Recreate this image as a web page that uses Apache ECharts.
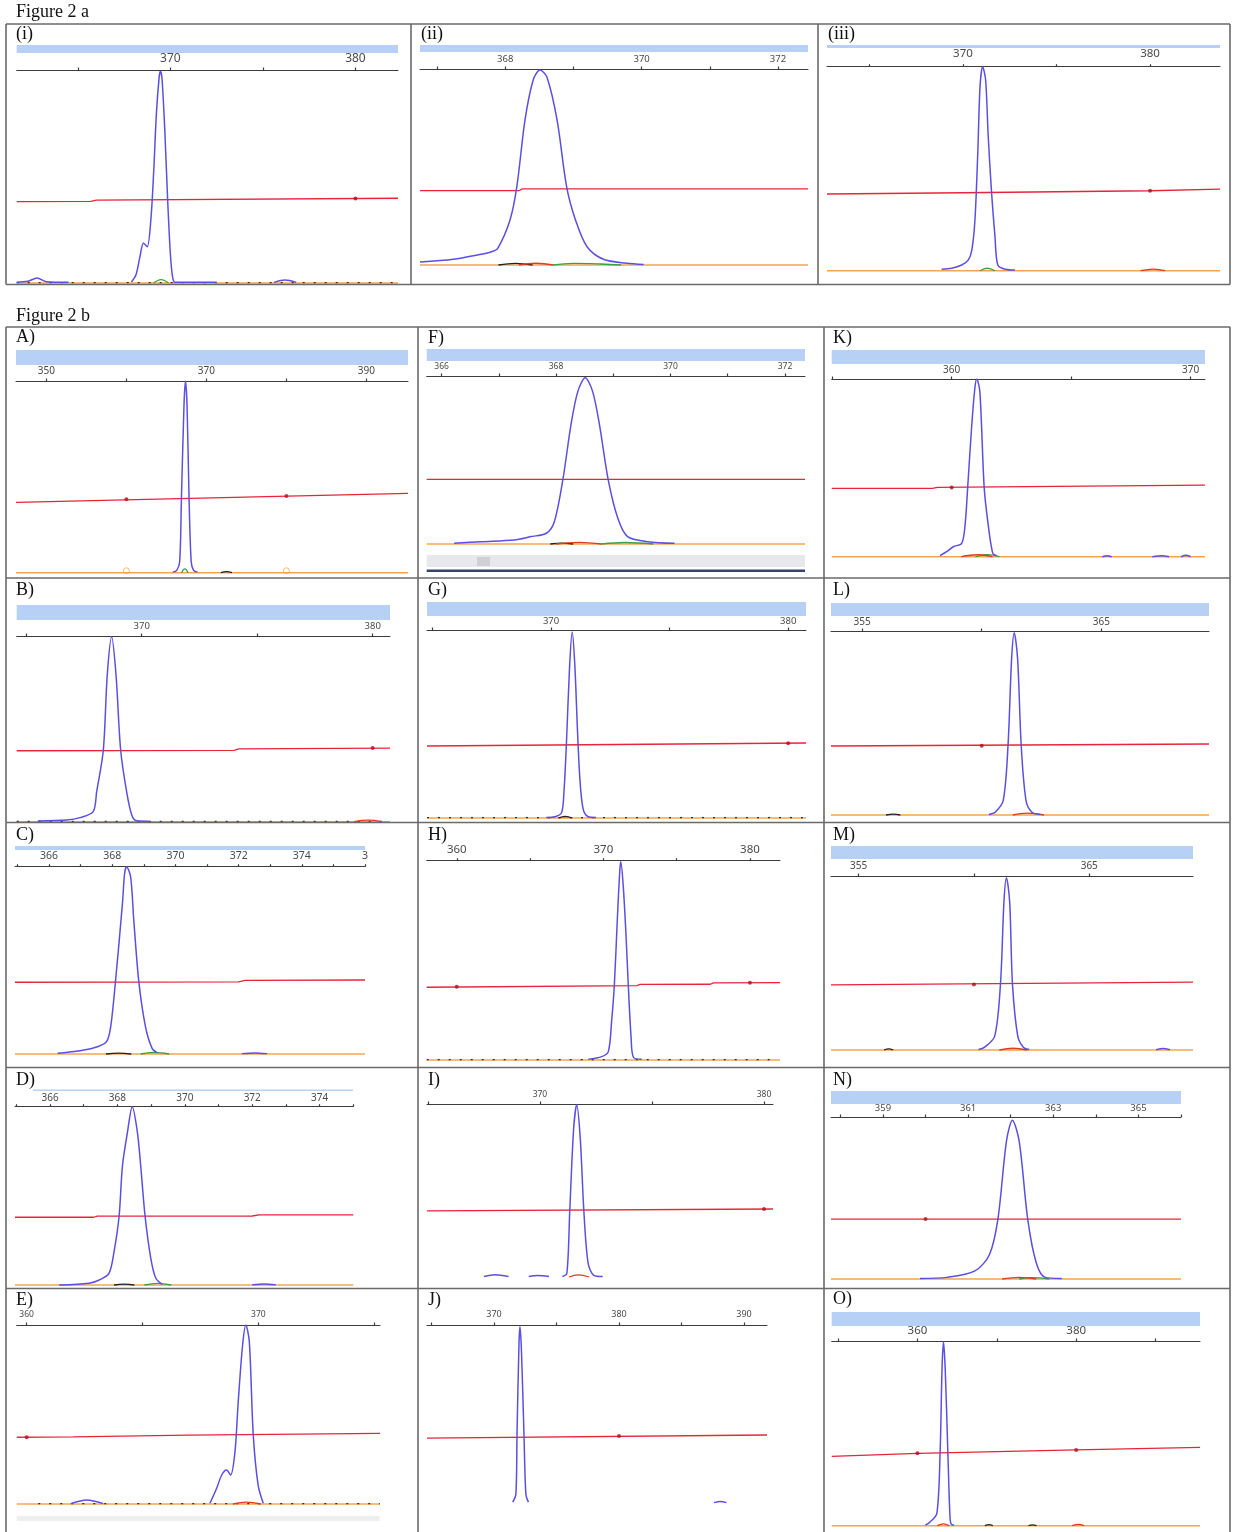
<!DOCTYPE html>
<html><head><meta charset="utf-8">
<script src="https://cdn.jsdelivr.net/npm/echarts@6/dist/echarts.min.js"></script>
<style>html,body{margin:0;padding:0;background:#fff}#c{width:1234px;height:1532px}</style>
</head><body><div id="c"></div><script>
// ---------------- DATA (x in bp, y in % of panel height) ----------------
const range_i=[361.7,382.3], ticks_i=[365,370,375,380], labels_i=[[370,'370'],[380,'380']];
const blue_i=[[[361.7,0.4],[362.3,0.8],[362.8,2.3],[363.3,0.6],[364.5,0.3]],
 [[367.9,0.5],[368.15,4],[368.35,12],[368.55,18.8],[368.75,17],[368.95,30],[369.1,52],[369.25,80],[369.4,97],[369.47,99.4],[369.55,96],[369.7,72],[369.85,40],[370.0,14],[370.12,3],[370.25,0.4],[372.5,0.3]],
 [[375.6,0.3],[376.2,1.4],[376.8,0.3]]];
const red_i=[[361.7,38.2],[365.7,38.3],[366.0,38.9],[382.3,39.8]], dots_i=[[380,39.7]];
const green_i=[[[369.1,0],[369.5,1.6],[369.9,0]]], dark_i=[], dash_i=[[361.7,382.3]];

const range_ii=[366.75,372.44], ticks_ii=[367,368,369,370,371,372], labels_ii=[[368,'368'],[370,'370'],[372,'372']];
const blue_ii=[[[366.75,1.5],[367.24,2.9],[367.59,5.1],[367.8,6.8],[367.89,8.5],[368.07,23],[368.17,40],[368.29,74],[368.41,94.4],[368.51,99.5],[368.61,96],[368.76,74],[368.9,40],[369.03,23],[369.2,9.3],[369.44,2.9],[369.78,0.9],[370.03,0.3]]];
const red_ii=[[366.75,37.9],[368.2,37.9],[368.25,38.8],[372.44,38.8]], dots_ii=[];
const green_ii=[[[368.7,0],[369.0,0.8],[369.4,0.5],[369.7,0]]], dark_ii=[[[367.9,0],[368.15,0.8],[368.4,0]]], rb_ii=[[[368.2,0],[368.45,0.9],[368.7,0]]], dash_ii=[];

const range_iii=[362.73,383.74], ticks_iii=[365,370,375,380], labels_iii=[[370,'370'],[380,'380']];
const blue_iii=[[[368.86,0.7],[369.4,1.2],[369.93,2.8],[370.28,5.2],[370.47,10],[370.64,25],[370.79,57.5],[370.91,90],[371.05,100],[371.21,93.5],[371.35,65.7],[371.53,38],[371.71,16.7],[371.86,2.8],[372.25,0.7],[372.78,0.3]]];
const red_iii=[[362.73,37.6],[370,38.2],[380,39.2],[383.74,40]], dots_iii=[[380,39.2]];
const green_iii=[[[370.9,0],[371.3,1.2],[371.7,0]]], dark_iii=[], rb_iii=[[[379.5,0],[380.2,0.8],[380.8,0]]], dash_iii=[];

const range_A=[346.2,395.2], ticks_A=[350,360,370,380,390], labels_A=[[350,'350'],[370,'370'],[390,'390']];
const blue_A=[[[365.8,0.3],[366.3,1.2],[366.66,5.7],[366.88,39],[367.2,87.5],[367.38,100],[367.58,87.5],[367.83,39],[368.1,5.7],[368.4,1.2],[368.9,0.3]]];
const red_A=[[346.2,36.7],[395.2,41.4]], dots_A=[[360,38.3],[380,40]];
const green_A=[[[366.9,0],[367.3,2],[367.7,0]]], dark_A=[[[371.8,0],[372.5,0.6],[373.2,0]]], rb_A=[], dash_A=[], rings_A=[[360,1],[380,1]];

const range_B=[364.59,380.75], ticks_B=[365,370,375,380], labels_B=[[370,'370'],[380,'380']];
const blue_B=[[[365.5,0.4],[366.75,0.9],[367.33,2.2],[367.9,5.4],[368.05,16],[368.34,38.6],[368.51,79],[368.7,99.6],[368.89,79],[369.09,38.6],[369.35,16],[369.57,3.6],[369.78,0.5],[370.3,0.3]]];
const red_B=[[364.59,38.2],[374,38.4],[374.2,39.2],[380.75,39.6]], dots_B=[[380,39.7]];
const green_B=[], dark_B=[], rb_B=[[[379.2,0],[379.8,0.8],[380.4,0]]], dash_B=[[364.59,380.75]];

const range_C=[364.92,376], ticks_C=[365,366,367,368,369,370,371,372,373,374,375,376],
      labels_C=[[366,'366'],[368,'368'],[370,'370'],[372,'372'],[374,'374'],[376,'3']];
const blue_C=[[[366.27,0.4],[366.58,0.9],[367.1,2.1],[367.53,3.9],[367.82,6.6],[367.95,14.6],[368.1,38.6],[368.32,80],[368.39,96.5],[368.45,100],[368.58,94.7],[368.68,71.5],[368.84,38.6],[369.05,14.6],[369.26,3],[369.42,0.7]],
 [[372.1,0.2],[372.5,0.6],[372.9,0.2]]];
const red_C=[[364.92,38.3],[372.0,38.5],[372.2,39.3],[376,39.5]], dots_C=[];
const green_C=[[[368.9,0],[369.3,0.8],[369.8,0]]], dark_C=[[[367.8,0],[368.2,0.5],[368.6,0]]], rb_C=[], dash_C=[];

const range_D=[364.96,375], ticks_D=[365,366,367,368,369,370,371,372,373,374,375],
      labels_D=[[366,'366'],[368,'368'],[370,'370'],[372,'372'],[374,'374']];
const blue_D=[[[366.27,0],[367.16,1],[367.46,2.8],[367.75,6.5],[367.9,18.7],[368.05,38.7],[368.15,67],[368.3,86],[368.44,100],[368.59,86],[368.69,67],[368.82,38.7],[368.99,15],[369.14,3.8],[369.33,0.4]],
 [[372.0,0.1],[372.35,0.6],[372.7,0.1]]];
const red_D=[[364.96,38],[367.3,38],[367.4,38.6],[372.0,38.7],[372.2,39.3],[375,39.3]], dots_D=[];
const green_D=[[[368.8,0],[369.2,0.9],[369.6,0]]], dark_D=[[[367.9,0],[368.2,0.5],[368.5,0]]], rb_D=[], dash_D=[];

const range_E=[359.57,375.25], ticks_E=[360,365,370,375], labels_E=[[360,'360'],[370,'370']];
const blue_E=[[[367.91,0.4],[368.2,8.8],[368.42,16.2],[368.63,19],[368.8,16.2],[368.99,29],[369.13,57],[369.32,88.8],[369.46,100],[369.61,90.7],[369.78,38.5],[369.99,10.6],[370.21,0.4]],
 [[361.9,0.2],[362.6,2.2],[363.3,0.2]]];
const red_E=[[359.57,37.3],[362,37.5],[367,38.5],[375.25,39.5]], dots_E=[[360,37.3]];
const green_E=[], dark_E=[], rb_E=[[[368.9,0],[369.5,1],[370.1,0]]], dash_E=[[360.5,375.25]];

const range_F=[365.74,372.35], ticks_F=[366,367,368,369,370,371,372], labels_F=[[366,'366'],[368,'368'],[370,'370'],[372,'372']];
const blue_F=[[[366.22,0.4],[366.69,1.4],[367.27,2.4],[367.56,4.4],[367.83,6.4],[367.97,13.3],[368.12,38.5],[368.26,70.8],[368.38,90.7],[368.51,99],[368.64,90.7],[368.76,70.8],[368.91,38.5],[369.08,15.3],[369.25,4.4],[369.6,1.4],[370.07,0.4]]];
const red_F=[[365.74,38.5],[372.35,38.5]], dots_F=[];
const green_F=[[[368.8,0],[369.2,0.9],[369.7,0]]], dark_F=[[[367.9,0],[368.1,0.5],[368.3,0]]], rb_F=[[[368.0,0],[368.4,1],[368.8,0]]], dash_F=[];

const range_G=[364.77,380.75], ticks_G=[365,370,375,380], labels_G=[[370,'370'],[380,'380']];
const blue_G=[[[369.8,0.3],[370.2,0.8],[370.45,3],[370.55,15],[370.65,40],[370.78,80],[370.89,99],[371.0,82],[371.12,45],[371.22,20],[371.35,5],[371.55,0.8],[371.9,0.3]]];
const red_G=[[364.77,38.3],[380.75,39.9]], dots_G=[[380,39.8]];
const green_G=[], dark_G=[[[370.3,0],[370.6,0.8],[370.9,0]]], rb_G=[], dash_G=[[364.77,380.75]];

const range_H=[357.95,382.05], ticks_H=[360,365,370,375,380], labels_H=[[360,'360'],[370,'370'],[380,'380']];
const blue_H=[[[368.98,0.4],[369.89,1.7],[370.34,4.2],[370.57,20],[370.75,37.6],[370.95,70],[371.12,95],[371.19,99.5],[371.36,87],[371.55,62],[371.7,37.6],[371.89,11.7],[372.05,1.4],[372.62,0.4]]];
const red_H=[[357.95,36.5],[372.3,37.3],[372.5,37.9],[377.3,38.0],[377.5,38.7],[382.05,38.8]], dots_H=[[360,36.8],[380,38.8]];
const green_H=[], dark_H=[], rb_H=[], dash_H=[[357.95,381.5]];

const range_I=[364.96,380.4], ticks_I=[365,370,375,380], labels_I=[[370,'370'],[380,'380']];
const blue_I=[[[371.0,0.3],[371.2,2],[371.33,38],[371.5,85],[371.64,99.5],[371.8,80],[371.96,38],[372.15,8],[372.4,1],[372.8,0.3]],
 [[367.5,0.3],[368.0,1.3],[368.6,0.3]],[[369.5,0.3],[369.9,0.8],[370.4,0.3]]];
const red_I=[[364.96,38.2],[380.4,39.3]], dots_I=[[380,39.3]];
const green_I=[], dark_I=[], rb_I=[[[371.3,0],[371.7,1.2],[372.2,0]]], dash_I=[];

const range_J=[364.64,391.84], ticks_J=[365,370,375,380,385,390], labels_J=[[370,'370'],[380,'380'],[390,'390']];
const blue_J=[[[371.5,0.5],[371.75,5],[371.84,38],[372.0,90],[372.08,99],[372.2,85],[372.4,38],[372.55,5],[372.75,0.5]],
 [[387.6,0.2],[388.1,0.8],[388.6,0.2]]];
const red_J=[[364.64,36.5],[391.84,38.2]], dots_J=[[380,37.6]];
const green_J=[], dark_J=[], rb_J=[], dash_J=[];

const range_K=[354.98,370.6], ticks_K=[355,360,365,370], labels_K=[[360,'360'],[370,'370']];
const blue_K=[[[359.51,0.6],[359.79,2.8],[360.07,5.6],[360.42,7.5],[360.56,17.8],[360.67,39],[360.84,74],[360.97,94.8],[361.05,100],[361.18,92.9],[361.36,39],[361.53,17.8],[361.72,1.9],[361.88,0.6]],
 [[366.3,0],[366.5,0.5],[366.7,0]],[[368.4,0],[368.8,0.6],[369.1,0]],[[369.6,0],[369.8,0.8],[370.0,0]]];
const red_K=[[354.98,38.5],[359.2,38.5],[359.4,39],[370.6,40.3]], dots_K=[[360,39]];
const green_K=[[[361.0,0],[361.5,1.2],[362.0,0]]], dark_K=[], rb_K=[[[360.4,0],[361.1,1.1],[361.7,0]]], dash_K=[];

const range_L=[353.7,369.5], ticks_L=[355,360,365], labels_L=[[355,'355'],[365,'365']];
const blue_L=[[[360.3,0.3],[360.56,1.5],[360.9,8],[361.1,38],[361.25,85],[361.36,99],[361.5,85],[361.65,38],[361.85,8],[362.1,1.5],[362.45,0.3]]];
const red_L=[[353.7,37.5],[369.5,38.6]], dots_L=[[360,37.7]];
const green_L=[], dark_L=[[[356.0,0],[356.3,0.5],[356.6,0]]], rb_L=[[[361.3,0],[361.9,1],[362.6,0]]], dash_L=[];

const range_M=[353.8,369.5], ticks_M=[355,360,365], labels_M=[[355,'355'],[365,'365']];
const blue_M=[[[360.2,0.3],[360.45,1.5],[360.9,8],[361.15,38],[361.3,85],[361.41,99],[361.55,85],[361.67,38],[361.9,8],[362.15,1.5],[362.4,0.3]],
 [[367.9,0.2],[368.2,0.8],[368.5,0.2]]];
const red_M=[[353.8,37.4],[369.5,39]], dots_M=[[360,37.6]];
const green_M=[], dark_M=[[[356.1,0],[356.3,0.6],[356.5,0]]], rb_M=[[[361.1,0],[361.7,1],[362.3,0]]], dash_M=[];

const range_N=[357.78,366], ticks_N=[358,359,360,361,362,363,364,365,366], labels_N=[[359,'359'],[361,'361'],[363,'363'],[365,'365']];
const blue_N=[[[359.87,0.3],[360.5,1],[361.16,5],[361.5,15],[361.7,37],[361.9,85],[362.04,98],[362.2,85],[362.4,37],[362.6,10],[362.81,1],[363.2,0.3]]];
const red_N=[[357.78,37],[366,37]], dots_N=[[360,37]];
const green_N=[[[362.2,0],[362.5,0.9],[362.9,0]]], dark_N=[], rb_N=[[[361.8,0],[362.2,1],[362.6,0]]], dash_N=[];

const range_O=[349.2,395.6], ticks_O=[350,360,370,380,390], labels_O=[[360,'360'],[380,'380']];
const blue_O=[[[361.0,0.3],[361.6,2],[362.45,6.7],[362.86,40],[363.1,85],[363.28,99.6],[363.5,85],[363.83,40],[364.1,5],[364.25,0.9],[364.6,0.3]]];
const red_O=[[349.2,37.5],[360,39.2],[380,41],[395.6,42.4]], dots_O=[[360,39.2],[380,41]];
const green_O=[], dark_O=[[[368.5,0],[369,0.6],[369.5,0]],[[374,0],[374.5,0.5],[375,0]]], rb_O=[[[362.5,0],[363.3,1],[364,0]],[[379.5,0],[380.3,0.7],[381,0]]], dash_O=[];

// ---------------- PANELS ----------------
const PANELS=[
 {k:'i',name:'(i)',range:range_i,ticks:ticks_i,labels:labels_i,blue:blue_i,red:red_i,dots:dots_i,green:green_i,dark:dark_i,rb:[],dash:dash_i},
 {k:'ii',name:'(ii)',range:range_ii,ticks:ticks_ii,labels:labels_ii,blue:blue_ii,red:red_ii,dots:dots_ii,green:green_ii,dark:dark_ii,rb:rb_ii,dash:dash_ii},
 {k:'iii',name:'(iii)',range:range_iii,ticks:ticks_iii,labels:labels_iii,blue:blue_iii,red:red_iii,dots:dots_iii,green:green_iii,dark:dark_iii,rb:rb_iii,dash:dash_iii},
 {k:'A',name:'A)',range:range_A,ticks:ticks_A,labels:labels_A,blue:blue_A,red:red_A,dots:dots_A,green:green_A,dark:dark_A,rb:rb_A,dash:dash_A,rings:rings_A},
 {k:'B',name:'B)',range:range_B,ticks:ticks_B,labels:labels_B,blue:blue_B,red:red_B,dots:dots_B,green:green_B,dark:dark_B,rb:rb_B,dash:dash_B},
 {k:'C',name:'C)',range:range_C,ticks:ticks_C,labels:labels_C,blue:blue_C,red:red_C,dots:dots_C,green:green_C,dark:dark_C,rb:rb_C,dash:dash_C},
 {k:'D',name:'D)',range:range_D,ticks:ticks_D,labels:labels_D,blue:blue_D,red:red_D,dots:dots_D,green:green_D,dark:dark_D,rb:rb_D,dash:dash_D},
 {k:'E',name:'E)',range:range_E,ticks:ticks_E,labels:labels_E,blue:blue_E,red:red_E,dots:dots_E,green:green_E,dark:dark_E,rb:rb_E,dash:dash_E},
 {k:'F',name:'F)',range:range_F,ticks:ticks_F,labels:labels_F,blue:blue_F,red:red_F,dots:dots_F,green:green_F,dark:dark_F,rb:rb_F,dash:dash_F},
 {k:'G',name:'G)',range:range_G,ticks:ticks_G,labels:labels_G,blue:blue_G,red:red_G,dots:dots_G,green:green_G,dark:dark_G,rb:rb_G,dash:dash_G},
 {k:'H',name:'H)',range:range_H,ticks:ticks_H,labels:labels_H,blue:blue_H,red:red_H,dots:dots_H,green:green_H,dark:dark_H,rb:rb_H,dash:dash_H},
 {k:'I',name:'I)',range:range_I,ticks:ticks_I,labels:labels_I,blue:blue_I,red:red_I,dots:dots_I,green:green_I,dark:dark_I,rb:rb_I,dash:dash_I,noBase:true},
 {k:'J',name:'J)',range:range_J,ticks:ticks_J,labels:labels_J,blue:blue_J,red:red_J,dots:dots_J,green:green_J,dark:dark_J,rb:rb_J,dash:dash_J,noBase:true},
 {k:'K',name:'K)',range:range_K,ticks:ticks_K,labels:labels_K,blue:blue_K,red:red_K,dots:dots_K,green:green_K,dark:dark_K,rb:rb_K,dash:dash_K},
 {k:'L',name:'L)',range:range_L,ticks:ticks_L,labels:labels_L,blue:blue_L,red:red_L,dots:dots_L,green:green_L,dark:dark_L,rb:rb_L,dash:dash_L},
 {k:'M',name:'M)',range:range_M,ticks:ticks_M,labels:labels_M,blue:blue_M,red:red_M,dots:dots_M,green:green_M,dark:dark_M,rb:rb_M,dash:dash_M},
 {k:'N',name:'N)',range:range_N,ticks:ticks_N,labels:labels_N,blue:blue_N,red:red_N,dots:dots_N,green:green_N,dark:dark_N,rb:rb_N,dash:dash_N},
 {k:'O',name:'O)',range:range_O,ticks:ticks_O,labels:labels_O,blue:blue_O,red:red_O,dots:dots_O,green:green_O,dark:dark_O,rb:rb_O,dash:dash_O}
];

// ---------------- LAYOUT (pixels) ----------------
const LAYOUT={
 i:  {lab:[16,25],  plot:[16.7,398,70,283],      bar:[16.7,398,45,8],   fs:12,  m:5},
 ii: {lab:[421,25], plot:[420,808,69,265],       bar:[420,808,45,7],    fs:9.5, m:5},
 iii:{lab:[828,25], plot:[827,1220,66.7,270.7],  bar:[827,1220,45,3],   fs:11.5,m:6.5},
 A:  {lab:[16,328], plot:[16,408,381,572.7],     bar:[16,408,350,15],   fs:10,  m:5},
 B:  {lab:[16,581], plot:[16.7,390,636,821.7],   bar:[16.7,390,605,15], fs:9.5, m:4.5},
 C:  {lab:[16,826], plot:[15,365,866.7,1054],    bar:[15,365,846,4],    fs:10.5,m:5},
 D:  {lab:[16,1071],plot:[15,353.3,1106.7,1285], bar:[33,353,1089.5,1.5],fs:10, m:4},
 E:  {lab:[16,1291],plot:[16.7,380,1325,1504],   bar:null,              fs:8.5, m:5.5},
 F:  {lab:[428,329],plot:[426.7,805,376,544],    bar:[426.7,805,349,12],fs:8.5, m:5},
 G:  {lab:[428,581],plot:[427,806,630,818],      bar:[427,806,602,14],  fs:9.5, m:3.5},
 H:  {lab:[428,826],plot:[426.7,780,860.7,1060], bar:null,              fs:11.5,m:5},
 I:  {lab:[428,1071],plot:[427,773,1104,1277],   bar:null,              fs:8.5, m:4.5},
 J:  {lab:[428,1291],plot:[427,767,1325,1503],   bar:null,              fs:9,   m:6.5},
 K:  {lab:[833,329],plot:[831.7,1205,379,556.7], bar:[831.7,1205,350,14],fs:10, m:4},
 L:  {lab:[833,581],plot:[831,1209,631,815],     bar:[831,1209,603,13], fs:10,  m:4},
 M:  {lab:[833,826],plot:[831,1193,876,1050],    bar:[831,1193,846,13], fs:10,  m:5},
 N:  {lab:[833,1071],plot:[831,1181,1117,1279],  bar:[831,1181,1091,13],fs:9.5, m:3.3},
 O:  {lab:[833,1290],plot:[831.7,1200,1341,1525.7],bar:[831.7,1200,1312,14],fs:11.5,m:4.5}
};

const C_BLUE='#5b4fe3', C_RED='#e8243a', C_ORANGE='#f4a450', C_BAR='#b7d1f6', C_FRAME='#6a6a6a', C_AXIS='#3c3c3c';
const YMIN=-3;
const grid=[],xAxis=[],yAxis=[],series=[],graphic=[];
function line(k,data,color,width,extra){
  return Object.assign({type:'line',xAxisIndex:k,yAxisIndex:k,data:data,symbol:'none',silent:true,animation:false,
    lineStyle:{color:color,width:width}},extra||{});
}
PANELS.forEach((p,k)=>{
  const l=LAYOUT[p.k];
  const [x0,x1,ay,by]=l.plot;
  const h=by-ay;
  grid.push({left:x0,top:ay,width:x1-x0,height:h*(100-YMIN)/100});
  xAxis.push({gridIndex:k,type:'value',position:'top',min:p.range[0],max:p.range[1],
    axisLine:{show:true,onZero:false,lineStyle:{color:C_AXIS,width:1}},
    axisTick:{show:true,customValues:p.ticks,length:2.5,inside:false,lineStyle:{color:C_AXIS,width:1.2}},
    axisLabel:{show:true,customValues:p.labels.map(a=>a[0]),formatter:v=>{for(const a of p.labels){if(Math.abs(a[0]-v)<1e-6)return a[1];}return '';},
      fontSize:l.fs,color:'#4a4a4a',margin:l.m,fontFamily:'Noto Sans'},
    splitLine:{show:false},minorTick:{show:false}});
  yAxis.push({gridIndex:k,type:'value',min:YMIN,max:100,show:false});
  if(!p.noBase) series.push(line(k,[[p.range[0],0],[p.range[1],0]],C_ORANGE,1.5,{z:1}));
  p.dash.forEach(r=>series.push(line(k,[[r[0],0.2],[r[1],0.2]],'#3a2a2a',1.3,{z:2,lineStyle:{color:'#3a2a2a',width:1.3,type:[2,9]}})));
  p.green.forEach(s=>series.push(line(k,s,'#3aa040',1.3,{smooth:0.4,z:3})));
  p.dark.forEach(s=>series.push(line(k,s,'#222222',1.3,{smooth:0.4,z:3})));
  (p.rb||[]).forEach(s=>series.push(line(k,s,'#e03a20',1.3,{smooth:0.4,z:3})));
  if(p.rings) series.push({type:'scatter',xAxisIndex:k,yAxisIndex:k,data:p.rings,symbol:'circle',symbolSize:6,silent:true,animation:false,
    itemStyle:{color:'rgba(0,0,0,0)',borderColor:C_ORANGE,borderWidth:1},z:3});
  series.push(line(k,p.red,C_RED,1.3,{z:4}));
  if(p.dots.length) series.push({type:'scatter',xAxisIndex:k,yAxisIndex:k,data:p.dots,symbolSize:4,silent:true,animation:false,
    itemStyle:{color:'#b0101c'},z:5});
  p.blue.forEach(s=>series.push(line(k,s,C_BLUE,1.5,{smooth:0.3,z:6})));
  if(l.bar) graphic.push({type:'rect',shape:{x:l.bar[0],y:l.bar[2],width:l.bar[1]-l.bar[0],height:l.bar[3]},style:{fill:C_BAR},silent:true,z:0});
  graphic.push({type:'text',x:l.lab[0],y:l.lab[1],style:{text:p.name,font:'18px "Liberation Serif"',fill:'#111'},silent:true});
});
graphic.push({type:'text',x:16,y:3,style:{text:'Figure 2 a',font:'18px "Liberation Serif"',fill:'#111'},silent:true});
graphic.push({type:'text',x:16,y:307,style:{text:'Figure 2 b',font:'18px "Liberation Serif"',fill:'#111'},silent:true});
function fl(x1,y1,x2,y2){graphic.push({type:'line',shape:{x1,y1,x2,y2},style:{stroke:C_FRAME,lineWidth:1.6},silent:true,z:10});}
fl(6,24,1230,24);fl(6,284.5,1230,284.5);fl(6,24,6,284.5);fl(1230,24,1230,284.5);fl(411,24,411,284.5);fl(818,24,818,284.5);
fl(6,327,1230,327);fl(6,327,6,1532);fl(1230,327,1230,1532);fl(418,327,418,1532);fl(824,327,824,1532);
[578,822.5,1067.5,1288.5].forEach(y=>fl(6,y,1230,y));
graphic.push({type:'rect',shape:{x:426.7,y:555,width:378.3,height:12},style:{fill:'#e6e8eb'},silent:true});
graphic.push({type:'rect',shape:{x:477,y:557,width:13,height:9},style:{fill:'#cdd0d4'},silent:true});
graphic.push({type:'rect',shape:{x:426.7,y:569.5,width:378.3,height:2.5},style:{fill:'#34456a'},silent:true});
graphic.push({type:'rect',shape:{x:16.7,y:1516,width:363,height:5},style:{fill:'#eeeeee'},silent:true});

const chart=echarts.init(document.getElementById('c'),null,{renderer:'canvas'});
chart.setOption({animation:false,backgroundColor:'#fff',grid,xAxis,yAxis,series,graphic});
</script></body></html>
